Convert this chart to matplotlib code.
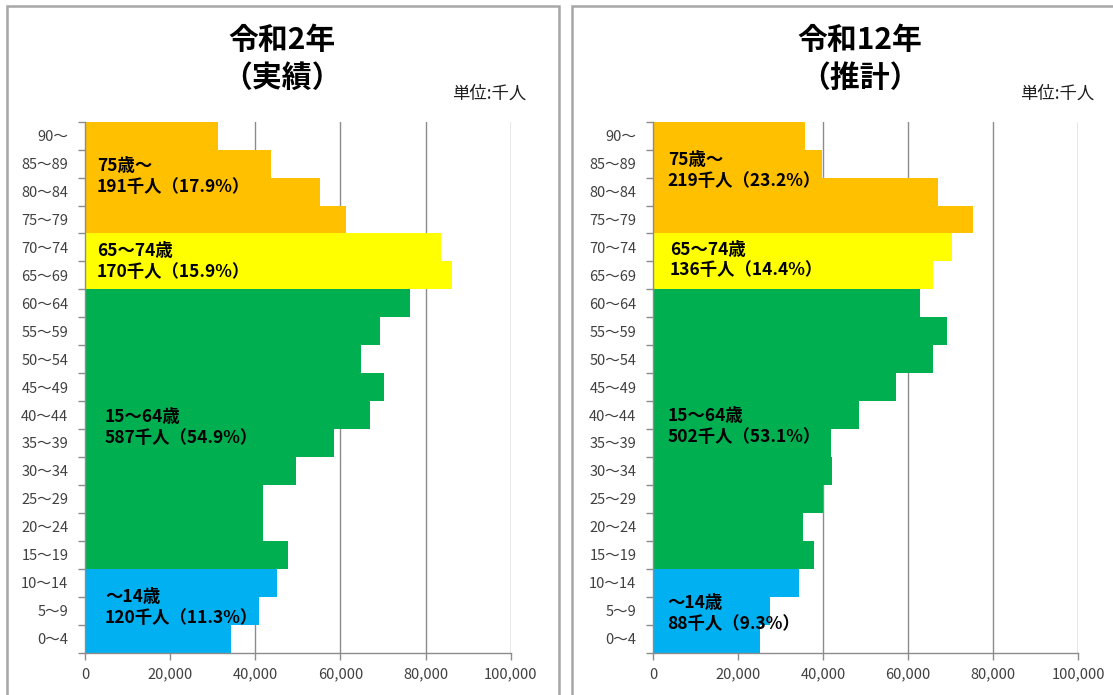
import matplotlib
matplotlib.use("Agg")
import matplotlib.pyplot as plt
from matplotlib.patches import Rectangle
from matplotlib.ticker import FuncFormatter

plt.rcParams['font.family'] = ['Noto Sans CJK JP', 'DejaVu Sans']

# ---------------- data ----------------
age_labels = ['0～4', '5～9', '10～14', '15～19', '20～24', '25～29', '30～34',
              '35～39', '40～44', '45～49', '50～54', '55～59', '60～64',
              '65～69', '70～74', '75～79', '80～84', '85～89', '90～']

pop_r2 = [34400, 40800, 45050, 47700, 41700, 41700, 49600, 58400, 66900, 70200,
          64850, 69400, 76350, 86100, 83650, 61400, 55100, 43800, 31300]

pop_r12 = [25150, 27600, 34300, 37900, 35250, 40050, 42200, 41850, 48550, 57050,
           65850, 69150, 62850, 65850, 70400, 75250, 67100, 39850, 35800]

group_of_age = ['child'] * 3 + ['working'] * 10 + ['young_old'] * 2 + ['old_old'] * 4
group_colors = {'child': '#00B0F0', 'working': '#00B050',
                'young_old': '#FFFF00', 'old_old': '#FFC000'}

titles = ['令和2年\n（実績）', '令和12年\n（推計）']
unit_label = '単位:千人'

group_text_r2 = ['～14歳\n120千人（11.3%）', '15～64歳\n587千人（54.9%）',
                 '65～74歳\n170千人（15.9%）', '75歳～\n191千人（17.9%）']
group_text_r12 = ['～14歳\n88千人（9.3%）', '15～64歳\n502千人（53.1%）',
                  '65～74歳\n136千人（14.4%）', '75歳～\n219千人（23.2%）']

x_ticks = [0, 20000, 40000, 60000, 80000, 100000]

# ---------------- layout ----------------
W, H = 1113, 695
fig = plt.figure(figsize=(W / 100, H / 100), dpi=100)
fig.patch.set_facecolor('white')

def fx(px):
    return px / W

def fy(py):
    return 1 - py / H

# panel borders
for (x0, x1) in [(6.5, 558.5), (571.5, 1125)]:
    rect = Rectangle((fx(x0), fy(705)), fx(x1 - x0), (705 - 6.5) / H,
                     transform=fig.transFigure, fill=False,
                     edgecolor='#A6A6A6', linewidth=1.8, zorder=0)
    fig.patches.append(rect)

ax_top, ax_bot = 121.7, 652.5
panels = [
    dict(x0=85.0, x1=510.7, data=pop_r2, title=titles[0], tcx=282,
         unit_x=526, texts=group_text_r2, text_x=[4700, 4700, 2800, 2800],
         text_y=[1.1, 7.55, 13.5, 16.55]),
    dict(x0=653.0, x1=1078.3, data=pop_r12, title=titles[1], tcx=860,
         unit_x=1094, texts=group_text_r12, text_x=[3300, 3400, 4000, 3500],
         text_y=[0.9, 7.6, 13.55, 16.75]),
]

grid_color = '#8C8C8C'
tick_color = '#404040'

for p in panels:
    ax = fig.add_axes([fx(p['x0']), fy(ax_bot), fx(p['x1'] - p['x0']),
                       (ax_bot - ax_top) / H])
    ypos = list(range(len(age_labels)))
    colors = [group_colors[g] for g in group_of_age]
    ax.barh(ypos, p['data'], height=1.0, color=colors, edgecolor='none',
            zorder=2)
    ax.set_xlim(0, 100000)
    ax.set_ylim(-0.5, len(age_labels) - 0.5)

    # y axis: ticks at boundaries, labels at centers
    ax.set_yticks([i - 0.5 for i in range(len(age_labels) + 1)])
    ax.set_yticklabels([])
    ax.set_yticks(ypos, minor=True)
    ax.set_yticklabels(age_labels, minor=True, fontsize=10.5, color=tick_color,
                       family=['Noto Sans CJK JP', 'DejaVu Sans'])
    ax.tick_params(axis='y', which='major', direction='out', length=5,
                   color=grid_color, width=1)
    ax.tick_params(axis='y', which='minor', length=0, pad=12)

    ax.set_xticks(x_ticks)
    ax.xaxis.set_major_formatter(FuncFormatter(lambda v, _: f'{int(v):,}'))
    ax.tick_params(axis='x', which='major', direction='out', length=5,
                   color=grid_color, width=1, labelsize=10.5,
                   labelcolor=tick_color, pad=6)

    ax.grid(axis='x', color=grid_color, linewidth=1, zorder=1)
    ax.set_axisbelow(True)
    for s in ['top', 'right']:
        ax.spines[s].set_visible(False)
    for s in ['left', 'bottom']:
        ax.spines[s].set_color(grid_color)
        ax.spines[s].set_linewidth(1)
        ax.spines[s].set_zorder(3)

    for t, tx, ty in zip(p['texts'], p['text_x'], p['text_y']):
        ax.text(tx, ty, t, fontsize=12.5, fontweight='bold', color='black',
                ha='left', va='center', linespacing=1.2, zorder=4)

    fig.text(fx(p['tcx']), fy(59), p['title'], fontsize=21.5, fontweight='bold',
             ha='center', va='center', linespacing=1.3)
    fig.text(fx(p['unit_x']), fy(94), unit_label, fontsize=12.5, ha='right',
             va='center', color='#202020')

fig.savefig('out.png', dpi=100, facecolor='white')
